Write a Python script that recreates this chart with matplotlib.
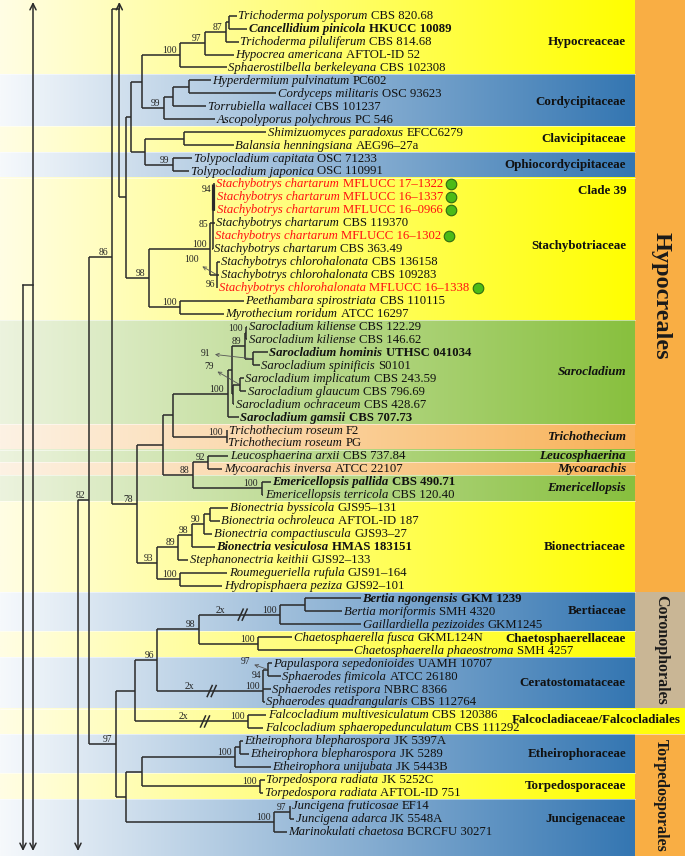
import matplotlib
matplotlib.use("Agg")
import matplotlib.pyplot as plt
import numpy as np

# ------------------------------------------------------------------ data
leaf_taxon = [
    "Trichoderma polysporum", "Cancellidium pinicola", "Trichoderma piluliferum",
    "Hypocrea americana", "Sphaerostilbella berkeleyana", "Hyperdermium pulvinatum",
    "Cordyceps militaris", "Torrubiella wallacei", "Ascopolyporus polychrous",
    "Shimizuomyces paradoxus", "Balansia henningsiana", "Tolypocladium capitata",
    "Tolypocladium japonica", "Stachybotrys chartarum", "Stachybotrys chartarum",
    "Stachybotrys chartarum", "Stachybotrys chartarum", "Stachybotrys chartarum",
    "Stachybotrys chartarum", "Stachybotrys chlorohalonata", "Stachybotrys chlorohalonata",
    "Stachybotrys chlorohalonata", "Peethambara spirostriata", "Myrothecium roridum",
    "Sarocladium kiliense", "Sarocladium kiliense", "Sarocladium hominis",
    "Sarocladium spinificis", "Sarocladium implicatum", "Sarocladium glaucum",
    "Sarocladium ochraceum", "Sarocladium gamsii", "Trichothecium roseum",
    "Trichothecium roseum", "Leucosphaerina arxii", "Mycoarachis inversa",
    "Emericellopsis pallida", "Emericellopsis terricola", "Bionectria byssicola",
    "Bionectria ochroleuca", "Bionectria compactiuscula", "Bionectria vesiculosa",
    "Stephanonectria keithii", "Roumegueriella rufula", "Hydropisphaera peziza",
    "Bertia ngongensis", "Bertia moriformis", "Gaillardiella pezizoides",
    "Chaetosphaerella fusca", "Chaetosphaerella phaeostroma", "Papulaspora sepedonioides",
    "Sphaerodes fimicola", "Sphaerodes retispora", "Sphaerodes quadrangularis",
    "Falcocladium multivesiculatum", "Falcocladium sphaeropedunculatum",
    "Etheirophora blepharospora", "Etheirophora blepharospora", "Etheirophora unijubata",
    "Torpedospora radiata", "Torpedospora radiata", "Juncigena fruticosae",
    "Juncigena adarca", "Marinokulati chaetosa",
]
leaf_voucher = [
    "CBS 820.68", "HKUCC 10089", "CBS 814.68", "AFTOL-ID 52", "CBS 102308", "PC602",
    "OSC 93623", "CBS 101237", "PC 546", "EFCC6279", "AEG96\u201327a", "OSC 71233",
    "OSC 110991", "MFLUCC 17\u20131322", "MFLUCC 16\u20131337", "MFLUCC 16\u20130966",
    "CBS 119370", "MFLUCC 16\u20131302", "CBS 363.49", "CBS 136158", "CBS 109283",
    "MFLUCC 16\u20131338", "CBS 110115", "ATCC 16297", "CBS 122.29", "CBS 146.62",
    "UTHSC 041034", "S0101", "CBS 243.59", "CBS 796.69", "CBS 428.67", "CBS 707.73",
    "F2", "PG", "CBS 737.84", "ATCC 22107", "CBS 490.71", "CBS 120.40", "GJS95\u2013131",
    "AFTOL-ID 187", "GJS93\u201327", "HMAS 183151", "GJS92\u2013133", "GJS91\u2013164",
    "GJS92\u2013101", "GKM 1239", "SMH 4320", "GKM1245", "GKML124N", "SMH 4257",
    "UAMH 10707", "ATCC 26180", "NBRC 8366", "CBS 112764", "CBS 120386", "CBS 111292",
    "JK 5397A", "JK 5289", "JK 5443B", "JK 5252C", "AFTOL-ID 751", "EF14", "JK 5548A",
    "BCRCFU 30271",
]
# tip depth of every leaf (tree x scale)
leaf_tip = [
    237, 247.5, 239, 234, 227, 211, 276.5, 206.5, 215.5, 266.5, 234, 192.5, 189.5,
    215, 215.5, 215.5, 215, 213.5, 212.5, 220, 219.5, 217.5, 244, 224,
    247.5, 247.5, 268, 260, 244, 246.5, 234.5, 239, 227.5, 227, 228.5, 222.5, 271, 263.5,
    228.5, 220, 212.5, 215, 188.5, 227.5, 222.5,
    361, 342.5, 361.5, 292.5, 353, 272, 281, 271, 265, 266.5, 263.5,
    243, 249, 271, 265, 263.5, 290.5, 294.5, 287,
]
bold_leaves = [1, 26, 31, 36, 41, 45]
red_leaves = [13, 14, 15, 17, 21]
marked_leaves = [13, 14, 15, 17, 21]

# internal nodes: id, depth, children (int = leaf index), bootstrap support
node_id = ["A", "B", "C", "D", "Hc", "Ct", "Cy", "E", "Cl", "Op", "G", "F",
           "S94", "S85", "Sch", "S100", "Pm", "S98", "N126", "P",
           "Kil", "Hom", "N89s", "Ig", "Io", "Sub", "Saro", "Tri", "ST", "LM", "Em", "N88",
           "N163", "Bo", "N90", "N98b", "N89b", "Rh", "N93", "N78", "N86",
           "Bb", "Bert", "Ch", "N98c", "Pap", "Cer", "N96", "Fal", "N134",
           "Eb", "Eth", "Tp", "Et", "J97", "Ju", "Tor", "N97", "N89", "R"]
node_depth = [228.7, 225.7, 205, 180, 189.3, 172.7, 164, 141.7, 184.3, 172.7, 145, 130.7,
              213.3, 212.7, 216.7, 210, 180, 149.3, 126, 119.3,
              246.5, 253.3, 245, 240, 233.3, 231.7, 227.7, 226.7, 172.7, 208.3, 261.7, 193.3,
              163.3, 210, 204, 191.7, 178.3, 180, 156.7, 136.7, 111.7,
              305, 280, 258.3, 199, 268.3, 263.3, 157.3, 248.3, 134.7,
              240, 235, 260, 141.7, 290, 274, 126, 116, 89, 78]
node_children = [[0, 1], ["A", 2], ["B", 3], ["C", 4], [5, 6], ["Hc", 7], ["Ct", 8],
                 ["D", "Cy"], [9, 10], [11, 12], ["Cl", "Op"], ["E", "G"],
                 [13, 14, 15], ["S94", 16, 17, 18], [19, 20, 21], ["S85", "Sch"], [22, 23],
                 ["S100", "Pm"], ["F", "S98"], ["N126"],
                 [24, 25], [26, 27], ["Kil", "Hom"], [28, 29], ["Ig", 30], ["N89s", "Io"],
                 ["Sub", 31], [32, 33], ["Saro", "Tri"], [34, 35], [36, 37], ["LM", "Em"],
                 ["ST", "N88"], [38, 39], ["Bo", 40], ["N90", 41], ["N98b", 42], [43, 44],
                 ["N89b", "Rh"], ["N163", "N93"], ["P", "N78"],
                 [45, 46], ["Bb", 47], [48, 49], ["Bert", "Ch"], [50, 51], ["Pap", 52, 53],
                 ["N98c", "Cer"], [54, 55], ["N96", "Fal"],
                 [56, 57], ["Eb", 58], [59, 60], ["Eth", "Tp"], [61, 62], ["J97", 63],
                 ["Et", "Ju"], ["N134", "Tor"], ["N86", "N97"], ["N89"]]
node_support = [None, "87", "97", "100", None, None, "99", None, None, "99", None, None,
                "94", "85", "96", "100", "100", "98", None, None,
                "100", None, "89", None, None, None, "100", "100", None, "92", "100", "88",
                None, None, "90", "98", "89", "100", "93", "78", "86",
                None, "100", "100", "98", "94", "100", "96", "100", None,
                None, "100", "100", None, "97", "100", None, "97", "82", None]
# supports shown with an arrow: node, value, label offset (px, rows)
arrow_supports = [("Sch", "100", -25.7, -1.14), ("Hom", "91", -47.3, -0.42),
                  ("Ig", "79", -31.3, -1.41), ("Pap", "97", -23.0, -0.63)]
support_shift = {"S94": (2, -0.26), "S85": (-1, 0.44), "Sch": (2, 1.08), "Pap": (-3.5, 0.8)}
row_override = {"P": -0.5, "Cer": 52.15}
broken_branch = {"Bert": 242.7, "Cer": 211.7, "Fal": 205.0}
thick_nodes = ["S94"]

# family bands: name, first leaf, last leaf, colour kind, italic
band_name = ["Hypocreaceae", "Cordycipitaceae", "Clavicipitaceae", "Ophiocordycipitaceae",
             "Stachybotriaceae", "Sarocladium", "Trichothecium", "Leucosphaerina",
             "Mycoarachis", "Emericellopsis", "Bionectriaceae", "Bertiaceae",
             "Chaetosphaerellaceae", "Ceratostomataceae", "Falcocladiaceae/Falcocladiales",
             "Etheirophoraceae", "Torpedosporaceae", "Juncigenaceae"]
band_first = [0, 5, 9, 11, 13, 24, 32, 34, 35, 36, 38, 45, 48, 50, 54, 56, 59, 61]
band_last = [4, 8, 10, 12, 23, 31, 33, 34, 35, 37, 44, 47, 49, 53, 55, 58, 60, 63]
band_kind = ["yellow", "blue", "yellow", "blue", "yellow", "green", "orange", "green",
             "orange", "green", "yellow", "blue", "yellow", "blue", "yellow", "blue",
             "yellow", "blue"]
band_italic = ["Sarocladium", "Trichothecium", "Leucosphaerina", "Mycoarachis", "Emericellopsis"]
band_label_shift = {"Chaetosphaerellaceae": -0.37, "Stachybotriaceae": -0.25,
                    "Cordycipitaceae": 0.15, "Falcocladiaceae/Falcocladiales": -0.15}
full_width_bands = ["Falcocladiaceae/Falcocladiales"]
extra_band_labels = [("Clade 39", 13.5)]

order_name = ["Hypocreales", "Coronophorales", "Torpedosporales"]
order_first = [0, 45, 56]
order_last = [44, 53, 63]
order_color = ["#F9AE44", "#C9B695", "#F9AE44"]
order_size = [17.5, 11.5, 11.5]

# ------------------------------------------------------------------ layout
W, H = 685, 856
Y0, DY = 15.7, 12.95          # pixel row of first leaf, spacing between leaves
ROW_TOP = (0 - Y0) / DY
ROW_BOT = (H - Y0) / DY
PX = 1.0 / DY                 # one pixel in row units
BAND_RIGHT, COL_RIGHT = 635, 685
FONT = "Liberation Serif"
LINE = "#2a2a2a"

kind_colors = {
    "yellow": ((255, 253, 228), (255, 255, 0)),
    "blue": ((246, 249, 252), (52, 118, 178)),
    "green": ((236, 243, 222), (136, 192, 62)),
    "orange": ((253, 242, 228), (248, 178, 88)),
}

fig = plt.figure(figsize=(W / 100, H / 100), dpi=100)
ax = fig.add_axes([0, 0, 1, 1])
ax.set_xlim(0, W)
ax.set_ylim(ROW_BOT, ROW_TOP)
ax.set_autoscale_on(False)
ax.axis("off")
renderer = fig.canvas.get_renderer()


def gradient(x0, x1, r0, r1, kind):
    cl, cr = (np.array(c) / 255.0 for c in kind_colors[kind])
    t = np.linspace(0, 1, 256)[None, :, None]
    img = cl + (cr - cl) * t
    ax.imshow(img, extent=[x0, x1, r1, r0], aspect="auto", interpolation="bilinear", zorder=0)


# order column
for name, f, l, c, s in zip(order_name, order_first, order_last, order_color, order_size):
    r0 = ROW_TOP if f == 0 else f - 0.5
    r1 = ROW_BOT if l == len(leaf_taxon) - 1 else l + 0.5
    ax.add_patch(plt.Rectangle((BAND_RIGHT, r0), COL_RIGHT - BAND_RIGHT, r1 - r0,
                               facecolor=c, edgecolor="none", zorder=0))
    ax.text((BAND_RIGHT + COL_RIGHT) / 2 + 1, (r0 + r1) / 2, name, rotation=-90,
            ha="center", va="center", fontsize=s, fontweight="bold", family=FONT,
            color="#1a1a1a", zorder=4)

# family bands
for name, f, l, kind in zip(band_name, band_first, band_last, band_kind):
    r0 = ROW_TOP if f == 0 else f - 0.5
    r1 = ROW_BOT if l == len(leaf_taxon) - 1 else l + 0.5
    right = COL_RIGHT if name in full_width_bands else BAND_RIGHT
    gradient(0, right, r0, r1, kind)
    ax.plot([0, right], [r1, r1], color="white", lw=0.6, alpha=0.6, zorder=0.5)
    ry = np.mean(np.arange(f, l + 1)) + band_label_shift.get(name, 0)
    xr = 681 if name in full_width_bands else 626
    ax.text(xr, ry, name, ha="right", va="center", fontsize=9.4, fontweight="bold",
            style="italic" if name in band_italic else "normal", family=FONT,
            color="#111111", zorder=4)
for txt, ry in extra_band_labels:
    ax.text(627, ry, txt, ha="right", va="center", fontsize=9.4, fontweight="bold",
            family=FONT, color="#111111", zorder=4)

# ------------------------------------------------------------------ tree
depth = dict(zip(node_id, node_depth))
children = dict(zip(node_id, node_children))
support = dict(zip(node_id, node_support))
row = {}


def node_row(n):
    if isinstance(n, int):
        return float(n)
    if n in row:
        return row[n]
    rows = [node_row(c) for c in children[n]]
    row[n] = row_override.get(n, (min(rows) + max(rows)) / 2)
    return row[n]


def node_x(n):
    return leaf_tip[n] if isinstance(n, int) else depth[n]


for n in node_id:
    node_row(n)

for n in node_id:
    x = depth[n]
    rows = [node_row(c) for c in children[n]] + [row[n]]
    lw = 2.3 if n in thick_nodes else 1.1
    ax.plot([x, x], [min(rows), max(rows)], color=LINE, lw=lw, solid_capstyle="butt", zorder=2)
    for c in children[n]:
        ax.plot([x, node_x(c)], [node_row(c), node_row(c)], color=LINE, lw=1.1,
                solid_capstyle="butt", zorder=2)

# supports
for n in node_id:
    s = support[n]
    if s is None:
        continue
    dx, dr = support_shift.get(n, (0, 0))
    ax.text(depth[n] - 3.5 + dx, row[n] - 2 * PX + dr, s, ha="right", va="baseline",
            fontsize=6.9, family=FONT, color="#222222", zorder=3)
for n, s, dx, dr in arrow_supports:
    ax.annotate(s, xy=(depth[n], row[n]), xytext=(depth[n] + dx, row[n] + dr),
                ha="center", va="center", fontsize=6.9, family=FONT, color="#222222",
                arrowprops=dict(arrowstyle="<-", lw=0.6, color="#555555",
                                shrinkA=1, shrinkB=1, mutation_scale=6), zorder=3)

# broken (2x shortened) branches
for n, bx in broken_branch.items():
    r = row[n]
    ax.text(bx - 22, r - 2 * PX, "2x", ha="center", va="baseline", fontsize=6.9,
            family=FONT, color="#222222", zorder=3)
    for o in (-2.0, 2.0):
        ax.plot([bx + o - 2.5, bx + o + 2.5], [r + 5.5 * PX, r - 5.5 * PX], color=LINE,
                lw=1.1, zorder=3)

# root stems running off the figure
arrow_top, arrow_bot = (2 - Y0) / DY, (851 - Y0) / DY
stems = [(33, arrow_top, arrow_bot, "<->"), (23, (285 - Y0) / DY, arrow_bot, "->"),
         (depth["R"], row["N89"], arrow_bot, "->"), (depth["P"], row["P"], arrow_top, "->")]
for x, r0, r1, style in stems:
    ax.annotate("", xy=(x, r1), xytext=(x, r0),
                arrowprops=dict(arrowstyle=style, lw=1.1, color=LINE, shrinkA=0, shrinkB=0,
                                mutation_scale=11), zorder=2)
ax.plot([23, 33], [(285 - Y0) / DY] * 2, color=LINE, lw=1.1, zorder=2)

# leaf labels
inv = ax.transData.inverted()
for i, (tax, vou) in enumerate(zip(leaf_taxon, leaf_voucher)):
    bold = i in bold_leaves
    col = "#FF1010" if i in red_leaves else "#111111"
    y = i + 3.4 * PX
    t1 = ax.text(leaf_tip[i] + 1.5, y, tax, ha="left", va="baseline", fontsize=9.2,
                 family=FONT, style="italic", fontweight="bold" if bold else "normal",
                 color=col, zorder=3)
    x1 = inv.transform((t1.get_window_extent(renderer).x1, 0))[0]
    t2 = ax.text(x1 + 3.3, y, vou, ha="left", va="baseline", fontsize=9.2, family=FONT,
                 fontweight="bold" if bold else "normal", color=col, zorder=3)
    if i in marked_leaves:
        x2 = inv.transform((t2.get_window_extent(renderer).x1, 0))[0]
        ax.scatter([x2 + 8], [i], s=58, facecolor="#4CBB17", edgecolor="#2E6B10",
                   linewidth=0.8, zorder=4)

ax.set_xlim(0, W)
ax.set_ylim(ROW_BOT, ROW_TOP)
fig.savefig("out.png", dpi=100)
